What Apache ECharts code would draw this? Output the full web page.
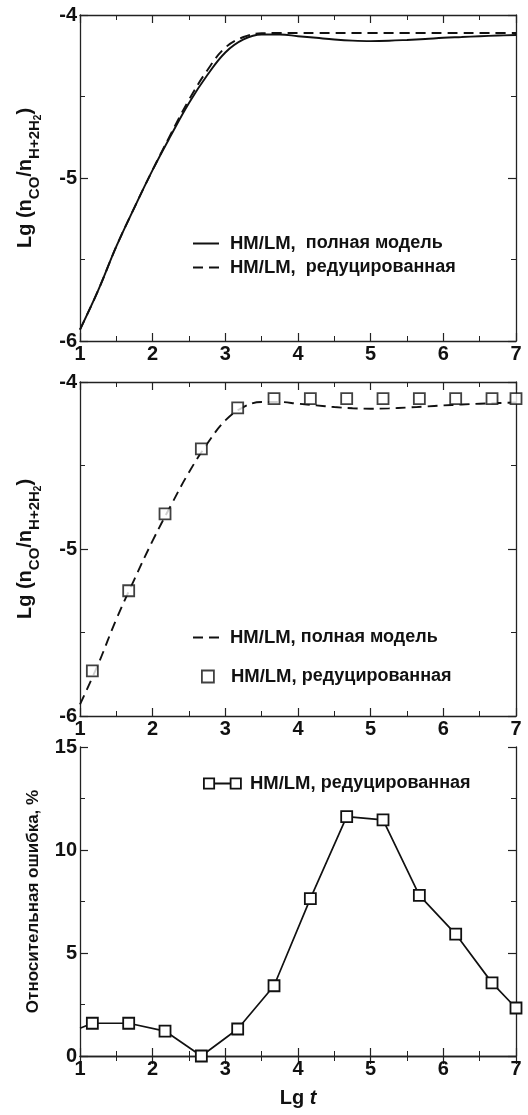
<!DOCTYPE html>
<html>
<head>
<meta charset="utf-8">
<script src="https://cdn.jsdelivr.net/npm/echarts@6/dist/echarts.min.js"></script>
<style>
  html, body { margin: 0; padding: 0; background: #fff; }
  #chart { width: 528px; height: 1115px; }
</style>
</head>
<body>
<div id="chart"></div>
<script>
// Lg t grid for the continuous model curves
const curveLgT = [1.0, 1.25, 1.5, 1.75, 2.0, 2.25, 2.5, 2.75, 3.0, 3.25, 3.5, 3.75, 4.0,
                  4.25, 4.5, 4.75, 5.0, 5.25, 5.5, 5.75, 6.0, 6.25, 6.5, 6.75, 7.0];
// Lg(nCO / nH+2H2), full kinetic model
const fullModel = [-5.93, -5.69, -5.42, -5.18, -4.95, -4.74, -4.54, -4.37, -4.23, -4.15, -4.12, -4.12, -4.13,
                   -4.14, -4.15, -4.157, -4.16, -4.158, -4.153, -4.147, -4.14, -4.135, -4.13, -4.126, -4.123];
// Lg(nCO / nH+2H2), reduced model (continuous)
const reducedModel = [-5.93, -5.69, -5.42, -5.18, -4.95, -4.73, -4.52, -4.34, -4.20, -4.135, -4.112, -4.11, -4.11,
                      -4.11, -4.11, -4.11, -4.11, -4.11, -4.11, -4.11, -4.11, -4.11, -4.11, -4.11, -4.11];
// Sample times of the reduced model
const sampleLgT = [1.17, 1.67, 2.17, 2.67, 3.17, 3.67, 4.17, 4.67, 5.17, 5.67, 6.17, 6.67, 7.0];
const reducedSamples = [-5.73, -5.25, -4.79, -4.40, -4.155, -4.10, -4.10, -4.10, -4.10, -4.10, -4.10, -4.10, -4.10];
// Relative error of the reduced model, %  (start of the curve at Lg t = 1, then the samples)
const errorStartLgT = 1.0;
const errorStart = 1.35;
const relError = [1.59, 1.59, 1.21, 0.0, 1.31, 3.41, 7.64, 11.62, 11.46, 7.80, 5.92, 3.55, 2.33];

// Axis ranges
const lgTRange = { min: 1, max: 7, interval: 1 };
const lgNRange = { min: -6, max: -4, interval: 1 };
const errRange = { min: 0, max: 15, interval: 5 };

const FONT = "'Liberation Sans', Arial, Helvetica, sans-serif";
const INK = '#111';
const AXIS = '#222';

const pairs = (xs, ys) => xs.map((x, i) => [x, ys[i]]);

function xAxes(gridIndex, name) {
  const base = {
    type: 'value', gridIndex, ...lgTRange,
    axisLine: { show: true, lineStyle: { color: AXIS, width: 1.3 } },
    axisTick: { show: true, inside: true, length: 8, lineStyle: { color: AXIS, width: 1.2 } },
    minorTick: { show: true, splitNumber: 2, length: 5, lineStyle: { color: AXIS, width: 1 } },
    splitLine: { show: false }, minorSplitLine: { show: false }
  };
  const bottom = Object.assign({}, base, {
    position: 'bottom',
    axisLabel: { show: true, fontSize: 20, fontWeight: 'bold', fontFamily: FONT, color: INK, margin: 3 }
  });
  if (name) {
    Object.assign(bottom, {
      name: '{a|Lg }{b|t}', nameLocation: 'middle', nameGap: 32,
      nameTextStyle: {
        rich: {
          a: { fontSize: 20, fontWeight: 'bold', fontFamily: FONT, color: INK },
          b: { fontSize: 20, fontWeight: 'bold', fontStyle: 'italic', fontFamily: FONT, color: INK }
        }
      }
    });
  }
  const top = Object.assign({}, base, { position: 'top', axisLabel: { show: false } });
  return [bottom, top];
}

// Lg(n_CO / n_H+2H2) with subscripts lowered through top padding
const concName = '{m|Lg (n}{s|CO}{m|/n}{s|H+2H}{ss|2}{m|)}';
const concRich = {
  m: { fontSize: 20, fontWeight: 'bold', fontFamily: FONT, color: INK, lineHeight: 47, verticalAlign: 'top' },
  s: { fontSize: 15, fontWeight: 'bold', fontFamily: FONT, color: INK, verticalAlign: 'top', padding: [12, 0, 0, 0] },
  ss: { fontSize: 10, fontWeight: 'bold', fontFamily: FONT, color: INK, verticalAlign: 'top', padding: [18, 0, 0, 0] }
};

function yAxes(gridIndex, range, nameCfg) {
  const base = {
    type: 'value', gridIndex, ...range,
    axisLine: { show: true, lineStyle: { color: AXIS, width: 1.3 } },
    axisTick: { show: true, inside: true, length: 8, lineStyle: { color: AXIS, width: 1.2 } },
    minorTick: { show: true, splitNumber: 2, length: 5, lineStyle: { color: AXIS, width: 1 } },
    splitLine: { show: false }, minorSplitLine: { show: false }
  };
  const left = Object.assign({}, base, {
    position: 'left',
    axisLabel: { show: true, fontSize: 20, fontWeight: 'bold', fontFamily: FONT, color: INK, margin: 3 }
  }, nameCfg);
  const right = Object.assign({}, base, { position: 'right', axisLabel: { show: false } });
  return [left, right];
}

const concNameCfg = {
  name: concName, nameLocation: 'middle', nameRotate: 90, nameGap: 18,
  nameTextStyle: { rich: concRich }
};
const errNameCfg = {
  name: 'Относительная ошибка, %', nameLocation: 'middle', nameRotate: 90, nameGap: 38,
  nameTextStyle: { fontSize: 17, fontWeight: 'bold', fontFamily: FONT, color: INK }
};

const legendLabels = {
  'Полная модель (1)': '{a|HM/LM,}{b|  полная модель}',
  'Редуцированная (1)': '{a|HM/LM,}{b|  редуцированная}',
  'Полная модель (2)': '{a|HM/LM,}{b| полная модель}',
  'Редуцированная (2)': '{a|HM/LM,}{b| редуцированная}',
  'Ошибка': '{a|HM/LM,}{b| редуцированная}'
};
function legendText(padLeft) {
  return {
    rich: {
      a: { fontSize: 18.5, fontWeight: 'bold', fontFamily: FONT, color: INK, lineHeight: 20, padding: [0, 0, 0, padLeft] },
      b: { fontSize: 18, fontWeight: 'bold', fontFamily: FONT, color: INK, lineHeight: 20 }
    }
  };
}
function legend(name, left, top, extra, padLeft) {
  return Object.assign({
    data: [name], left, top, padding: 0, selectedMode: false,
    itemWidth: 26, itemHeight: 14,
    formatter: n => legendLabels[n],
    textStyle: legendText(padLeft)
  }, extra);
}

const squareStyle = { color: '#fff', borderColor: INK, borderWidth: 1.8 };
const solidIcon = { icon: 'path://M0,0H26V2H0Z', itemWidth: 26, itemHeight: 2, itemStyle: { color: INK, borderWidth: 0 } };
const dashIcon = { icon: 'path://M0,0H10V2H0ZM16,0H26V2H16Z', itemWidth: 26, itemHeight: 2, itemStyle: { color: INK, borderWidth: 0 } };

const option = {
  backgroundColor: '#fff',
  animation: false,
  grid: [
    { left: 80, right: 12, top: 15, height: 326 },
    { left: 80, right: 12, top: 382, height: 334 },
    { left: 80, right: 12, top: 747, height: 309 }
  ],
  xAxis: [...xAxes(0), ...xAxes(1), ...xAxes(2, true)],
  yAxis: [...yAxes(0, lgNRange, concNameCfg), ...yAxes(1, lgNRange, concNameCfg), ...yAxes(2, errRange, errNameCfg)],
  legend: [
    legend('Полная модель (1)', 193, 234, solidIcon, 6),
    legend('Редуцированная (1)', 193, 258, dashIcon, 6),
    legend('Полная модель (2)', 193, 628, dashIcon, 6),
    legend('Редуцированная (2)', 201, 667, { itemWidth: 12, itemHeight: 12, itemStyle: squareStyle }, 12),
    legend('Ошибка', 203, 774, {
      icon: 'path://M0,0H10V10H0ZM10,5H26M26,0H36V10H26Z',
      itemWidth: 37, itemHeight: 11, itemStyle: squareStyle
    }, 4)
  ],
  series: [
    {
      name: 'Полная модель (1)', type: 'line', xAxisIndex: 0, yAxisIndex: 0,
      data: pairs(curveLgT, fullModel), smooth: 0.4, symbol: 'none',
      lineStyle: { color: INK, width: 1.9, type: 'solid' }, z: 3
    },
    {
      name: 'Редуцированная (1)', type: 'line', xAxisIndex: 0, yAxisIndex: 0,
      data: pairs(curveLgT, reducedModel), smooth: 0.4, symbol: 'none',
      lineStyle: { color: INK, width: 1.9, type: [10, 6] }, z: 2
    },
    {
      name: 'Полная модель (2)', type: 'line', xAxisIndex: 2, yAxisIndex: 2,
      data: pairs(curveLgT, fullModel), smooth: 0.4, symbol: 'none',
      lineStyle: { color: INK, width: 1.9, type: [10, 6] }, z: 2
    },
    {
      name: 'Редуцированная (2)', type: 'scatter', xAxisIndex: 2, yAxisIndex: 2,
      data: pairs(sampleLgT, reducedSamples), symbol: 'rect', symbolSize: 11,
      itemStyle: squareStyle, z: 3
    },
    {
      name: 'Ошибка', type: 'line', xAxisIndex: 4, yAxisIndex: 4,
      data: [{ value: [errorStartLgT, errorStart], symbol: 'none' }].concat(pairs(sampleLgT, relError)),
      symbol: 'rect', symbolSize: 11, showAllSymbol: true,
      itemStyle: squareStyle,
      lineStyle: { color: INK, width: 1.7 }, z: 3
    }
  ]
};

const chart = echarts.init(document.getElementById('chart'), null, { renderer: 'canvas' });
chart.setOption(option);
</script>
</body>
</html>
